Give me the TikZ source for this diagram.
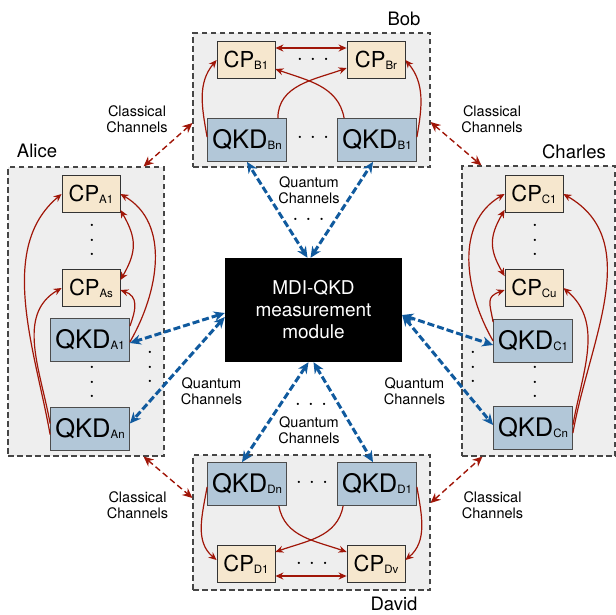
\documentclass[tikz,border=0pt]{standalone}
\usepackage{fontspec}
\setmainfont{TeX Gyre Heros}
\usetikzlibrary{arrows.meta}
\definecolor{cpFill}{RGB}{246, 231, 206}
\definecolor{qkdFill}{RGB}{178, 199, 216}
\definecolor{boxFill}{RGB}{238, 238, 238}
\definecolor{boxLine}{RGB}{70, 70, 70}
\definecolor{cRed}{RGB}{160, 22, 8}
\definecolor{cBlue}{RGB}{16, 90, 158}

\newcommand{\cpname}[1]{CP\raisebox{-2pt}{\fontsize{11.5}{12}\selectfont #1}}
\newcommand{\qkdname}[1]{QKD\raisebox{-1pt}{\fontsize{11.5}{12}\selectfont #1}}
\newcommand{\hdotz}{\textbullet\hspace{10pt}\textbullet\hspace{10pt}\textbullet}
\newcommand{\vdotz}{\textbullet\\\textbullet\\\textbullet}

\begin{document}
\begin{tikzpicture}[
    x=1pt, y=-1pt,
    >=Stealth,
    party/.style={draw=boxLine, fill=boxFill, dash pattern=on 5.5pt off 3.5pt, line width=1.1pt, inner sep=0pt},
    cp/.style={draw=black!80, fill=cpFill, line width=0.8pt, minimum width=58pt, minimum height=37pt, inner sep=0pt, font=\fontsize{22}{24}\selectfont},
    qkd/.style={draw=black!70, fill=qkdFill, line width=0.8pt, minimum width=79pt, minimum height=43pt, inner sep=0pt, font=\fontsize{25.5}{27}\selectfont},
    mdibox/.style={fill=black, text=white, minimum width=177pt, minimum height=104pt, align=center, font=\fontsize{19}{22}\selectfont},
    lbl/.style={font=\fontsize{18.5}{20}\selectfont, inner sep=0pt},
    chan/.style={font=\fontsize{14.5}{16}\selectfont, align=center, inner sep=0pt},
    hdots/.style={font=\fontsize{9}{9}\selectfont, inner sep=0pt},
    vdots/.style={font=\fontsize{9}{14.5}\selectfont, align=center, inner sep=0pt},
    link/.style={->, cRed, line width=1.2pt, >={Stealth[length=8pt, width=7pt]}},
    classic/.style={<->, cRed, line width=1.4pt, dash pattern=on 6pt off 3.5pt, >={Stealth[length=10pt, width=9pt]}},
    quantum/.style={<->, cBlue, line width=3pt, dash pattern=on 7pt off 3pt, >={Stealth[length=11pt, width=10pt]}}
]

    \useasboundingbox (0,0) rectangle (616,614);

    % ================= parties (dashed frames) =================
    \node[party, minimum width=156pt, minimum height=289pt] (alice)   at (86,311.5)  {};
    \node[party, minimum width=237pt, minimum height=134pt] (bob)     at (311.5,100) {};
    \node[party, minimum width=153pt, minimum height=290pt] (charles) at (538.5,311) {};
    \node[party, minimum width=237pt, minimum height=135pt] (david)   at (311.5,522.5) {};

    \node[lbl] (aliceLbl)   at (37,151)  {Alice};
    \node[lbl] (bobLbl)     at (404,19)  {Bob};
    \node[lbl] (charlesLbl) at (574,152) {Charles};
    \node[lbl] (davidLbl)   at (394,604) {David};

    % ================= measurement module =================
    \node[mdibox] (mdi) at (313.5,310) {MDI-QKD\\measurement\\module};

    % ================= Bob =================
    \node[cp]  (cpB1) at (246,60)  {\cpname{B1}};
    \node[cp]  (cpBr) at (376,60)  {\cpname{Br}};
    \node[qkd] (qBn)  at (247,140) {\qkdname{Bn}};
    \node[qkd] (qB1)  at (377,140) {\qkdname{B1}};
    \node[hdots] (bobCPdots)  at (313,60)  {\hdotz};
    \node[hdots] (bobQKDdots) at (313,138) {\hdotz};

    % ================= Alice =================
    \node[cp]  (cpA1) at (91,194)  {\cpname{A1}};
    \node[cp]  (cpAs) at (91,288)  {\cpname{As}};
    \node[qkd] (qA1)  at (90,340)  {\qkdname{A1}};
    \node[qkd] (qAn)  at (90,428.5) {\qkdname{An}};
    \node[vdots] (aliceCPdots)  at (92,241)  {\vdotz};
    \node[vdots] (aliceQKDdots) at (92,383)  {\vdotz};
    \node[vdots] (aliceChDots)  at (150,368) {\vdotz};

    % ================= Charles =================
    \node[cp]  (cpC1) at (534,194)  {\cpname{C1}};
    \node[cp]  (cpCu) at (534,288)  {\cpname{Cu}};
    \node[qkd] (qC1)  at (533,341)  {\qkdname{C1}};
    \node[qkd] (qCn)  at (533,428)  {\qkdname{Cn}};
    \node[vdots] (charlesCPdots)  at (535,241)  {\vdotz};
    \node[vdots] (charlesQKDdots) at (535,383)  {\vdotz};
    \node[vdots] (charlesChDots)  at (473,368)  {\vdotz};

    % ================= David =================
    \node[qkd] (qDn)  at (247,484) {\qkdname{Dn}};
    \node[qkd] (qD1)  at (377,484) {\qkdname{D1}};
    \node[cp]  (cpD1) at (246,564) {\cpname{D1}};
    \node[cp]  (cpDv) at (376,564) {\cpname{Dv}};
    \node[hdots] (davidQKDdots) at (312,483) {\hdotz};
    \node[hdots] (davidCPdots)  at (312,564) {\hdotz};

    % ================= channel labels =================
    \node[chan] (clTL) at (137,119)   {Classical\\Channels};
    \node[chan] (clTR) at (492,119)   {Classical\\Channels};
    \node[chan] (clBL) at (137.5,505) {Classical\\Channels};
    \node[chan] (clBR) at (492.5,505) {Classical\\Channels};
    \node[chan] (qcTop)   at (309,190.5) {Quantum\\Channels};
    \node[chan] (qcBot)   at (309,430)   {Quantum\\Channels};
    \node[chan] (qcLeft)  at (211.5,391.5) {Quantum\\Channels};
    \node[chan] (qcRight) at (414.5,391.5) {Quantum\\Channels};
    \node[hdots] (qcTopDots) at (308.5,220) {\hdotz};
    \node[hdots] (qcBotDots) at (311,405)   {\hdotz};

    % ================= links inside Bob =================
    \draw[link, <->] ([yshift=12pt]cpB1.east) -- ([yshift=12pt]cpBr.west);
    \draw[link] ([xshift=-9pt]qBn.north east) to[out=90, in=200] ([yshift=-8pt]cpBr.west);
    \draw[link] ([xshift=7pt]qB1.north west) to[out=100, in=-20] ([yshift=-9pt]cpB1.east);
    \draw[link] ([yshift=3pt]qBn.west) to[out=100, in=230] (cpB1.west);
    \draw[link] ([yshift=3pt]qB1.east) to[out=80, in=-50] (cpBr.east);

    % ================= links inside Alice =================
    \draw[link] ([yshift=-6pt]qAn.west) to[out=100, in=220, looseness=0.9] (cpA1.west);
    \draw[link] ([yshift=5pt]qAn.west) to[out=100, in=210] (cpAs.west);
    \draw[link] ([yshift=-8pt]qA1.north east) to[out=70, in=-20, looseness=1.3] ([yshift=-2pt]cpAs.east);
    \draw[link] ([yshift=-2pt]qA1.east) to[out=60, in=-30] (cpA1.east);
    \draw[link, <->] ([yshift=3pt]cpA1.south east) to[out=-60, in=60, looseness=1.2] ([yshift=-11pt]cpAs.north east);

    % ================= links inside Charles =================
    \draw[link] (qC1.west) to[out=120, in=210] (cpC1.west);
    \draw[link] ([yshift=-3pt]qC1.north west) to[out=100, in=200, looseness=1.5] ([yshift=-2pt]cpCu.west);
    \draw[link, <->] ([yshift=3pt]cpC1.south west) to[out=-120, in=120, looseness=1.2] ([yshift=-7pt]cpCu.north west);
    \draw[link] ([yshift=3pt]qCn.east) to[out=80, in=-40] (cpCu.east);
    \draw[link] ([yshift=-5pt]qCn.east) to[out=80, in=-30] (cpC1.east);

    % ================= links inside David =================
    \draw[link, <->] ([yshift=-12pt]cpD1.east) -- ([yshift=-12pt]cpDv.west);
    \draw[link] ([yshift=-3pt]qDn.west) to[out=-100, in=140] ([yshift=4pt]cpD1.west);
    \draw[link] ([xshift=-8pt]qDn.south east) to[out=-80, in=160] ([yshift=12pt]cpDv.west);
    \draw[link] ([xshift=6pt]qD1.south west) to[out=-100, in=20] ([yshift=12pt]cpD1.east);
    \draw[link] ([yshift=-3pt]qD1.east) to[out=-80, in=40] ([yshift=4pt]cpDv.east);

    % ================= quantum channels =================
    \draw[quantum] ([xshift=-6pt]mdi.north) -- (qBn.south);
    \draw[quantum] ([xshift=-3pt]mdi.north) -- ([xshift=-4pt]qB1.south);
    \draw[quantum] ([xshift=-5pt]mdi.south) -- ([xshift=-5pt]qDn.north);
    \draw[quantum] (mdi.south) -- ([xshift=-4pt]qD1.north);
    \draw[quantum] ([yshift=-3pt]mdi.west) -- ([yshift=-3pt]qA1.east);
    \draw[quantum] ([yshift=-7pt]mdi.west) -- ([yshift=5pt]qAn.east);
    \draw[quantum] ([yshift=-5pt]mdi.east) -- ([yshift=-4pt]qC1.west);
    \draw[quantum] ([yshift=-5pt]mdi.east) -- ([yshift=3pt]qCn.west);

    % ================= classical channels =================
    \draw[classic] ([xshift=-21pt]alice.north east) -- ([yshift=-23pt]bob.west);
    \draw[classic] ([yshift=-22pt]bob.east) -- ([xshift=20pt]charles.north west);
    \draw[classic] ([xshift=-21pt]alice.south east) -- ([yshift=24.5pt]david.west);
    \draw[classic] ([yshift=19.5pt]david.east) -- ([xshift=21pt]charles.south west);

\end{tikzpicture}
\end{document}
